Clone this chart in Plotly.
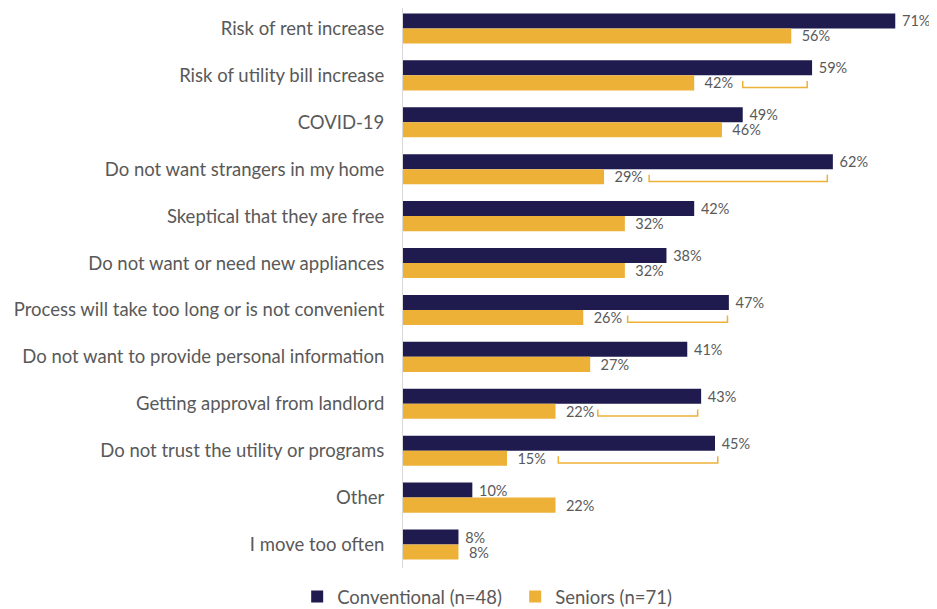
import plotly.graph_objects as go

categories = [
    "Risk of rent increase",
    "Risk of utility bill increase",
    "COVID-19",
    "Do not want strangers in my home",
    "Skeptical that they are free",
    "Do not want or need new appliances",
    "Process will take too long or is not convenient",
    "Do not want to provide personal information",
    "Getting approval from landlord",
    "Do not trust the utility or programs",
    "Other",
    "I move too often",
]
conventional = [71, 59, 49, 62, 42, 38, 47, 41, 43, 45, 10, 8]
seniors = [56, 42, 46, 29, 32, 32, 26, 27, 22, 15, 22, 8]

# significance brackets: row index, start %, end %
bracket_rows = [1, 3, 6, 8, 9]
bracket_start = [49.0, 35.5, 32.4, 28.1, 22.4]
bracket_end = [58.3, 61.2, 46.8, 42.5, 45.4]

NAVY = "#1f1b4e"
GOLD = "#edb138"
GREY = "#595959"
FONT = "Lato"

ypos = list(range(len(categories)))

fig = go.Figure()
fig.add_trace(go.Bar(
    y=ypos, x=conventional, orientation="h", name="Conventional (n=48)",
    marker=dict(color=NAVY, line=dict(width=0)),
    text=[f"{v}%" for v in conventional], texttemplate=" %{text}",
    textposition="outside", cliponaxis=False, constraintext="none",
    textfont=dict(size=14.5, color=GREY, family=FONT),
))
fig.add_trace(go.Bar(
    y=ypos, x=seniors, orientation="h", name="Seniors (n=71)",
    marker=dict(color=GOLD, line=dict(width=0)),
    text=[f"{v}%" for v in seniors], texttemplate="  %{text}",
    textposition="outside", cliponaxis=False, constraintext="none",
    textfont=dict(size=14.5, color=GREY, family=FONT),
))

for r, s, e in zip(bracket_rows, bracket_start, bracket_end):
    yb = r + 0.26
    yt = r + 0.12
    fig.add_trace(go.Scatter(
        x=[s, s, e, e], y=[yt, yb, yb, yt], mode="lines",
        line=dict(color=GOLD, width=1.5), showlegend=False, hoverinfo="skip",
        cliponaxis=False,
    ))

fig.update_layout(
    width=937, height=609,
    margin=dict(l=395, r=22, t=0, b=48.5, autoexpand=False),
    paper_bgcolor="white", plot_bgcolor="white",
    barmode="group", bargap=0.36, bargroupgap=0,
    font=dict(family=FONT, color=GREY),
    legend=dict(orientation="h", x=-0.2035, xanchor="left",
                yref="container", y=0.033, yanchor="middle",
                font=dict(size=18.5, color=GREY, family=FONT), traceorder="normal",
                itemwidth=30, entrywidth=173),
    showlegend=True,
)
fig.update_xaxes(range=[0, 75], visible=False, showgrid=False, zeroline=False)
fig.update_yaxes(
    range=[len(categories) - 0.5, -0.436], tickmode="array", tickvals=ypos,
    ticktext=categories, showgrid=False, zeroline=False,
    showline=True, linecolor="#d9d9d9", linewidth=1, ticks="",
    ticklabelstandoff=14, tickfont=dict(size=18.5, color=GREY, family=FONT),
)

fig.write_html("out.html")
